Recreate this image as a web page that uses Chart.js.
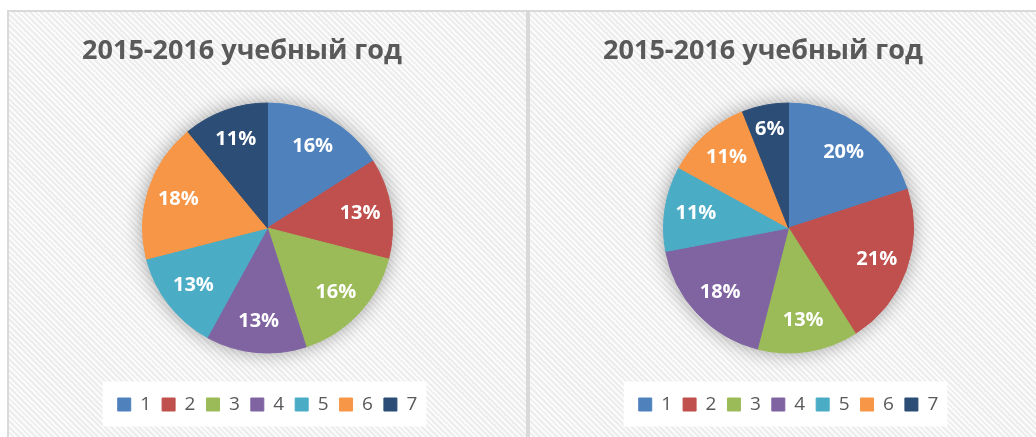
<!DOCTYPE html>
<html>
<head>
<meta charset="utf-8">
<script src="https://cdn.jsdelivr.net/npm/chart.js@4.4.1/dist/chart.umd.min.js"></script>
<style>
  html, body { margin: 0; padding: 0; background: #ffffff; overflow: hidden; }
  body { width: 1036px; height: 437px; position: relative; font-family: 'Open Sans', sans-serif; }
  .panel {
    position: absolute; top: 10px; width: 521px; height: 440px;
    box-sizing: border-box; border: 2px solid #d9d9d9;
    background: repeating-linear-gradient(45deg, #fbfbfb 0px, #fbfbfb 2px, #ededed 2px, #ededed 4px);
  }
  .chart-box { position: absolute; left: 0; top: 0; width: 517px; height: 425px; }
  .title {
    position: absolute; top: 29px; transform: translateX(-50%);
    white-space: nowrap; font: 700 27px 'Open Sans', sans-serif; color: #595959; line-height: 40px;
  }
</style>
</head>
<body>
<div class="panel" style="left:7px"><div class="chart-box"><canvas id="pieLeft"></canvas></div></div>
<div class="panel" style="left:528px"><div class="chart-box"><canvas id="pieRight"></canvas></div></div>
<div class="title" id="titleLeft" style="left:242px"></div>
<div class="title" id="titleRight" style="left:763px"></div>
<script>
// Chart data
const categories = ['1', '2', '3', '4', '5', '6', '7'];
const sharesLeft = [16, 13, 16, 13, 13, 18, 11];
const sharesRight = [20, 21, 13, 18, 11, 11, 6];
const titleLeft = '2015-2016 учебный год';
const titleRight = '2015-2016 учебный год';
const sliceColors = ['#4f81bd', '#c0504d', '#9bbb59', '#8064a2', '#4bacc6', '#f79646', '#2c4d75'];

document.getElementById('titleLeft').textContent = titleLeft;
document.getElementById('titleRight').textContent = titleRight;

Chart.defaults.font.family = "'Open Sans', sans-serif";

// Soft shadow under the pie
const pieShadow = {
    id: 'pieShadow',
    beforeDatasetsDraw(chart) {
        const arc = chart.getDatasetMeta(0).data[0];
        if (!arc) return;
        const ctx = chart.ctx;
        ctx.save();
        ctx.shadowColor = 'rgba(0, 0, 0, 0.4)';
        ctx.shadowBlur = 20;
        ctx.fillStyle = '#bbbbbb';
        ctx.beginPath();
        ctx.arc(arc.x, arc.y, arc.outerRadius - 1, 0, Math.PI * 2);
        ctx.fill();
        ctx.restore();
    }
};

// white box behind legend
const legendBox = {
    id: 'legendBox',
    beforeDraw(chart) {
        const boxes = chart.legend && chart.legend.legendHitBoxes;
        if (!boxes || !boxes.length) return;
        const left = Math.min(...boxes.map(b => b.left)) - 15;
        const right = Math.max(...boxes.map(b => b.left + b.width)) + 9;
        const cy = boxes[0].top + boxes[0].height / 2;
        const ctx = chart.ctx;
        ctx.save();
        ctx.fillStyle = '#ffffff';
        ctx.fillRect(left, cy - 23, right - left, 45);
        ctx.restore();
    }
};

// Percent labels inside the slices
const sliceLabels = {
    id: 'sliceLabels',
    afterDatasetsDraw(chart) {
        const ctx = chart.ctx;
        const values = chart.data.datasets[0].data;
        ctx.save();
        ctx.fillStyle = '#ffffff';
        ctx.font = "700 20px 'Open Sans', sans-serif";
        ctx.textAlign = 'center';
        ctx.textBaseline = 'middle';
        chart.getDatasetMeta(0).data.forEach((arc, i) => {
            const mid = (arc.startAngle + arc.endAngle) / 2;
            const r = arc.outerRadius * (values[i] < 10 ? 0.8 : 0.75);
            ctx.fillText(values[i] + '%', arc.x + Math.cos(mid) * r, arc.y + Math.sin(mid) * r);
        });
        ctx.restore();
    }
};

function createPie(canvasId, values) {
    return new Chart(document.getElementById(canvasId), {
        type: 'pie',
        data: {
            labels: categories,
            datasets: [{
                data: values,
                backgroundColor: sliceColors,
                borderColor: sliceColors,
                borderWidth: 1,
                radius: 125
            }]
        },
        options: {
            responsive: true,
            maintainAspectRatio: false,
            animation: false,
            layout: { padding: { top: 60, bottom: 13 } },
            plugins: {
                title: { display: false },
                tooltip: { enabled: false },
                legend: {
                    display: true,
                    position: 'bottom',
                    labels: {
                        color: '#595959',
                        font: { size: 19 },
                        boxWidth: 13,
                        boxHeight: 13,
                        padding: 11
                    }
                }
            }
        },
        plugins: [pieShadow, legendBox, sliceLabels]
    });
}

createPie('pieLeft', sharesLeft);
createPie('pieRight', sharesRight);
</script>
</body>
</html>
